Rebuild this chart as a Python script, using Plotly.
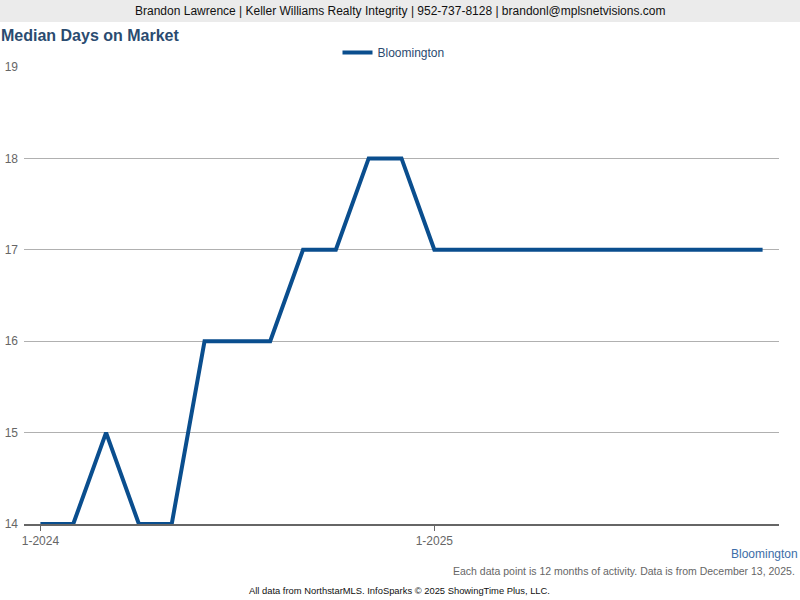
import plotly.graph_objects as go

months = ["1-2024","2-2024","3-2024","4-2024","5-2024","6-2024","7-2024","8-2024","9-2024","10-2024","11-2024","12-2024",
          "1-2025","2-2025","3-2025","4-2025","5-2025","6-2025","7-2025","8-2025","9-2025","10-2025","11-2025"]
bloomington = [14,14,15,14,14,16,16,16,17,17,18,18,17,17,17,17,17,17,17,17,17,17,17]
tick_labels = ["1-2024","1-2025"]
tick_positions = [0, 12]

FONT = "Arial, Liberation Sans, sans-serif"
x_idx = list(range(len(months)))

fig = go.Figure()
fig.add_trace(go.Scatter(
    x=x_idx, y=bloomington, mode="lines", name="Bloomington",
    line=dict(color="#0a4e8e", width=4),
    customdata=months, hovertemplate="%{customdata}: %{y}<extra></extra>",
))

fig.update_layout(
    width=800, height=600,
    margin=dict(l=24, r=21, t=67, b=76),
    paper_bgcolor="white", plot_bgcolor="white",
    font=dict(family=FONT, size=12, color="#555"),
    showlegend=True,
    legend=dict(orientation="h", x=(401.5 - 8 - 24) / 755, xanchor="center", y=1.0, yanchor="bottom",
                font=dict(size=12, color="#2b4a6f"), bgcolor="rgba(0,0,0,0)",
                itemwidth=30),
    xaxis=dict(range=[-0.5, 22.5], tickvals=tick_positions, ticktext=tick_labels,
               showgrid=False, zeroline=False, showline=True, linecolor="#666", linewidth=2,
               ticks="outside", ticklen=5, tickcolor="#666", tickwidth=1, automargin=False,
               tickfont=dict(size=12, color="#666")),
    yaxis=dict(range=[14, 19], dtick=1, showgrid=True, gridcolor="#b0b0b0", gridwidth=1,
               zeroline=False, showline=False, ticks="", ticklabelstandoff=5, automargin=False,
               tickfont=dict(size=12, color="#666")),
)

# header band
fig.add_shape(type="rect", xref="paper", yref="paper",
              x0=-24/755, x1=1+21/755, y0=1+45/457, y1=1+67/457,
              fillcolor="#ebebeb", line_width=0, layer="above")
fig.add_annotation(text="Brandon Lawrence | Keller Williams Realty Integrity | 952-737-8128 | brandonl@mplsnetvisions.com",
                   xref="paper", yref="paper", x=(400-24)/755, y=1+56/457, xanchor="center", yanchor="middle",
                   showarrow=False, font=dict(family=FONT, size=12, color="#111"))
fig.add_annotation(text="<b>Median Days on Market</b>", xref="paper", yref="paper",
                   x=-25/755, y=1+31/457, xanchor="left", yanchor="middle", showarrow=False,
                   font=dict(family=FONT, size=16, color="#2a4b70"))
fig.add_annotation(text="Bloomington", xref="paper", yref="paper",
                   x=1+21/755, y=-30/457, xanchor="right", yanchor="middle", showarrow=False,
                   font=dict(family=FONT, size=12, color="#3d6ea8"))
fig.add_annotation(text="Each data point is 12 months of activity. Data is from December 13, 2025.",
                   xref="paper", yref="paper", x=1+18/755, y=-47/457, xanchor="right", yanchor="middle",
                   showarrow=False, font=dict(family=FONT, size=10.5, color="#666"))
fig.add_annotation(text="All data from NorthstarMLS. InfoSparks © 2025 ShowingTime Plus, LLC.",
                   xref="paper", yref="paper", x=(399-24)/755, y=-66/457, xanchor="center", yanchor="middle",
                   showarrow=False, font=dict(family=FONT, size=9.4, color="#111"))

fig.write_html("out.html", config={"displayModeBar": False},
               post_script="document.body.style.margin='0';document.body.style.overflow='hidden';")
